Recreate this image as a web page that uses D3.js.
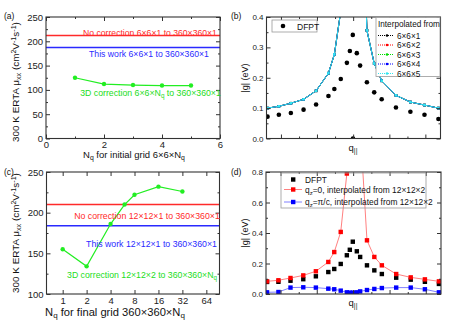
<!DOCTYPE html>
<html><head><meta charset="utf-8">
<script src="https://cdn.jsdelivr.net/npm/d3@7"></script>
<style>body{margin:0;background:#fff}svg{display:block}</style>
</head><body><svg id="c" width="469" height="330"></svg>
<script>
// ---------- data ----------
const nqA = [1, 2, 3, 4, 5];
const muA = [125, 112, 110, 109, 109];
const noCorrA = 212, thisWorkA = 187;
const nqC = [1, 2, 4, 6, 8, 16, 32];
const muC = [155, 134, 186, 210, 222, 232, 226];
const noCorrC = 210, thisWorkC = 184;

const qPath = [0.006,0.071,0.140,0.213,0.285,0.356,0.390,0.427,0.462,0.479,0.496,0.519,0.538,0.577,0.619,0.662,0.744,0.827,0.908,0.988];
const dfptB = [0.072,0.078,0.084,0.095,0.112,0.140,0.163,0.196,0.249,0.288,0.341,0.281,0.240,0.185,0.152,0.129,0.102,0.088,0.078,0.064];
const dfptZeroQ = [0.497], dfptZeroG = [0];
const interpB = [0.100,0.106,0.116,0.129,0.157,0.215,0.277,0.420,0.80,1.10,1.50,1.20,1.10,0.356,0.247,0.190,0.142,0.120,0.110,0.100];
const interpNames = ["6×6×1","6×6×2","6×6×3","6×6×4","6×6×5"];
const interpColors = ["#000000","#ff0000","#00dd00","#0000ff","#33e6ee"];
const dfptD = [0.079,0.080,0.087,0.097,0.116,0.144,0.164,0.197,0.254,0.290,0.343,0.280,0.243,0.188,0.155,0.131,0.107,0.094,0.080,0.066];
const qz0D = [0.083,0.090,0.105,0.122,0.149,0.210,0.275,0.407,0.79,1.10,1.50,1.20,1.10,0.352,0.243,0.188,0.131,0.109,0.096,0.083];
const qzPiD = [0.011,0.013,0.042,0.044,0.042,0.035,0.031,0.022,0.011,0.009,0.009,0.011,0.017,0.026,0.033,0.039,0.042,0.042,0.031,0.011];

const ticksAx = [0,2,4,6], minorAx = [1,3,5];
const ticksAy = [0,50,100,150,200,250], minorAy = [25,75,125,175,225];
const ticksCx = [1,2,4,8,16,32,64];
const ticksCy = [100,150,200,250], minorCy = [125,175,225];
const ticksBy = [0,0.1,0.2,0.3,0.4], minorBy = [0.05,0.15,0.25,0.35];
const ticksDy = [0,0.2,0.4,0.6,0.8], minorDy = [0.1,0.3,0.5,0.7];
const qTicksMajor = [0.083,0.290,0.498,0.706,0.913];
const qTicksMinor = [0.187,0.394,0.602,0.810];

// ---------- helpers ----------
const svg = d3.select("#c");
const FONT = "'Liberation Sans', Arial, sans-serif";
svg.attr("font-family", FONT);
const AX = "#333";

function axes(g, x, y, o) {
  const [x0, x1] = x.range(), [y0, y1] = y.range();
  const fs = o.fs;
  const add = (axis, tr, labels) => {
    const a = g.append("g").attr("transform", tr).call(axis);
    a.select(".domain").remove();
    a.selectAll("line").attr("stroke", AX).attr("stroke-width", 1);
    a.selectAll("text").attr("font-size", fs).attr("font-family", FONT).attr("fill", "#222");
    if (!labels) a.selectAll("text").remove();
  };
  add(d3.axisBottom(x).tickValues(o.xMajor).tickSize(-4).tickPadding(3).tickFormat(o.xFmt || (d=>d)), `translate(0,${y0})`, o.xLabels !== false);
  if (o.xMinor) add(d3.axisBottom(x).tickValues(o.xMinor).tickSize(-2), `translate(0,${y0})`, false);
  add(d3.axisTop(x).tickValues(o.xMajor).tickSize(-4), `translate(0,${y1})`, false);
  if (o.xMinor) add(d3.axisTop(x).tickValues(o.xMinor).tickSize(-2), `translate(0,${y1})`, false);
  add(d3.axisLeft(y).tickValues(o.yMajor).tickSize(-4).tickPadding(3).tickFormat(o.yFmt || (d=>d)), `translate(${x0},0)`, true);
  add(d3.axisLeft(y).tickValues(o.yMinor).tickSize(-2), `translate(${x0},0)`, false);
  add(d3.axisRight(y).tickValues(o.yMajor).tickSize(-4), `translate(${x1},0)`, false);
  add(d3.axisRight(y).tickValues(o.yMinor).tickSize(-2), `translate(${x1},0)`, false);
  g.append("rect").attr("x", x0).attr("y", y1).attr("width", x1 - x0).attr("height", y0 - y1)
    .attr("fill", "none").attr("stroke", AX).attr("stroke-width", 1.1);
}
let clipN = 0;
function clip(g, x, y) {
  const id = "clip" + (clipN++);
  const [x0, x1] = x.range(), [y0, y1] = y.range();
  svg.append("clipPath").attr("id", id).append("rect")
    .attr("x", x0).attr("y", y1).attr("width", x1 - x0).attr("height", y0 - y1);
  return g.append("g").attr("clip-path", `url(#${id})`);
}
function rich(sel, parts, fs) {
  parts.forEach(([t, m]) => {
    const ts = sel.append("tspan").text(t);
    if (m === "sub") ts.attr("baseline-shift", "-25%").attr("font-size", fs * 0.72);
    if (m === "sup") ts.attr("baseline-shift", "40%").attr("font-size", fs * 0.72);
  });
  return sel;
}
function label(x, y, parts, fs, opts = {}) {
  const t = svg.append("text").attr("x", x).attr("y", y).attr("font-size", fs)
    .attr("fill", opts.fill || "#111").attr("text-anchor", opts.anchor || "start");
  if (opts.rotate) t.attr("transform", `rotate(-90,${x},${y})`);
  return rich(t, parts, fs);
}
// text fitted to a span [a, b] measured on the reference (horizontal) or along rotated axis
function fitLabel(a, b, y, parts, opts = {}) {
  const probe = label(0, -100, parts, 10, {});
  const len = probe.node().getComputedTextLength();
  probe.remove();
  const fs = 10 * Math.abs(b - a) / len;
  if (opts.rotate) return label(y, (a + b) / 2, parts, fs, Object.assign({ anchor: "middle" }, opts));
  return label((a + b) / 2, y, parts, fs, Object.assign({}, opts, { anchor: "middle" }));
}
const muTitle = [["300 K ERTA μ",""],["xx","sub"],[" (cm",""],["2","sup"],["V",""],["-1","sup"],["s",""],["-1","sup"],[")",""]];

// ---------- panel (a) ----------
{
  const x = d3.scaleLinear().domain([0, 6]).range([46, 220]);
  const y = d3.scaleLinear().domain([0, 250]).range([138.5, 17]);
  const g = svg.append("g");
  const c = clip(g, x, y);
  c.append("line").attr("x1", x(0)).attr("x2", x(6)).attr("y1", y(noCorrA)).attr("y2", y(noCorrA)).attr("stroke", "#ff2a2a").attr("stroke-width", 1.5);
  c.append("line").attr("x1", x(0)).attr("x2", x(6)).attr("y1", y(thisWorkA)).attr("y2", y(thisWorkA)).attr("stroke", "#2a2aff").attr("stroke-width", 1.5);
  g.append("path").datum(nqA.map((n, i) => [n, muA[i]]))
    .attr("d", d3.line().x(d => x(d[0])).y(d => y(d[1]))).attr("fill", "none").attr("stroke", "#22ee22").attr("stroke-width", 1.2);
  g.selectAll(".pa").data(nqA.map((n, i) => [n, muA[i]])).join("circle")
    .attr("cx", d => x(d[0])).attr("cy", d => y(d[1])).attr("r", 2.2).attr("fill", "#22ee22");
  axes(g, x, y, { xMajor: ticksAx, xMinor: minorAx, yMajor: ticksAy, yMinor: minorAy, fs: 9.5 });
  fitLabel(83, 217, y(noCorrA) + 0.5, [["No correction 6×6×1 to 360×360×1",""]], { fill: "#ff2a2a" });
  fitLabel(89, 209, 57, [["This work 6×6×1 to 360×360×1",""]], { fill: "#2a2aff" });
  fitLabel(80, 221, 96, [["3D correction 6×6×N",""],["q","sub"],[" to 360×360×1",""]], { fill: "#22dd22" });
  fitLabel(83, 185, 158, [["N",""],["q","sub"],[" for initial grid 6×6×N",""],["q","sub"]]);
  fitLabel(142, 22, 19, muTitle, { rotate: true });
  label(4, 19, [["(a)",""]], 8.5);
}

// ---------- panel (c) ----------
{
  const x = d3.scaleLog().base(2).domain([0.626, 93.7]).range([46.5, 219.5]);
  const y = d3.scaleLinear().domain([100, 250]).range([294, 172]);
  const g = svg.append("g");
  const c = clip(g, x, y);
  c.append("line").attr("x1", x.range()[0]).attr("x2", x.range()[1]).attr("y1", y(noCorrC)).attr("y2", y(noCorrC)).attr("stroke", "#ff2a2a").attr("stroke-width", 1.5);
  c.append("line").attr("x1", x.range()[0]).attr("x2", x.range()[1]).attr("y1", y(thisWorkC)).attr("y2", y(thisWorkC)).attr("stroke", "#2a2aff").attr("stroke-width", 1.5);
  const pts = nqC.map((n, i) => [n, muC[i]]);
  g.append("path").datum(pts).attr("d", d3.line().x(d => x(d[0])).y(d => y(d[1])))
    .attr("fill", "none").attr("stroke", "#22ee22").attr("stroke-width", 1.2);
  g.selectAll(".pc").data(pts).join("circle")
    .attr("cx", d => x(d[0])).attr("cy", d => y(d[1])).attr("r", 2.2).attr("fill", "#22ee22");
  axes(g, x, y, { xMajor: ticksCx, yMajor: ticksCy, yMinor: minorCy, fs: 9.5, xFmt: d => String(d) });
  fitLabel(74, 220, 219, [["No correction 12×12×1 to 360×360×1",""]], { fill: "#ff2a2a" });
  fitLabel(86, 217, 246.5, [["This work 12×12×1 to 360×360×1",""]], { fill: "#2a2aff" });
  fitLabel(67, 217, 278, [["3D correction 12×12×2 to 360×360×N",""],["q","sub"]], { fill: "#22dd22" });
  fitLabel(45, 185, 316, [["N",""],["q","sub"],[" for final grid 360×360×N",""],["q","sub"]]);
  fitLabel(293, 173, 19, muTitle, { rotate: true });
  label(4, 175, [["(c)",""]], 8.5);
}

// ---------- panel (b) ----------
{
  const x = d3.scaleLinear().domain([0, 1]).range([266.5, 440.5]);
  const y = d3.scaleLinear().domain([0, 0.4]).range([138.5, 17]);
  const g = svg.append("g");
  const c = clip(g, x, y);
  const line = d3.line().x(d => x(d[0])).y(d => y(d[1]));
  interpNames.forEach((nm, k) => {
    const pts = qPath.map((q, i) => [q, interpB[i]]);
    c.append("path").datum(pts).attr("d", line).attr("fill", "none")
      .attr("stroke", interpColors[k]).attr("stroke-width", 1);
    c.selectAll(null).data(pts).join("rect")
      .attr("x", d => x(d[0]) - 1.3).attr("y", d => y(d[1]) - 1.3).attr("width", 2.6).attr("height", 2.6)
      .attr("fill", interpColors[k]);
  });
  const dp = qPath.map((q, i) => [q, dfptB[i]]).concat(dfptZeroQ.map((q, i) => [q, dfptZeroG[i]]));
  c.selectAll(null).data(dp).join("circle")
    .attr("cx", d => x(d[0])).attr("cy", d => y(d[1])).attr("r", 2.3).attr("fill", "#000");
  axes(g, x, y, { xMajor: qTicksMajor, xMinor: qTicksMinor, xLabels: false, yMajor: ticksBy, yMinor: minorBy, fs: 8, yFmt: d3.format(".1f") });
  g.append("rect").attr("x", 272).attr("y", 20).attr("width", 45).attr("height", 12)
    .attr("fill", "#fff").attr("stroke", "#999").attr("stroke-width", 0.8);
  g.append("circle").attr("cx", 283).attr("cy", 26).attr("r", 2.3).attr("fill", "#000");
  label(297, 29.5, [["DFPT",""]], 8.5);
  g.append("rect").attr("x", 376).attr("y", 17.5).attr("width", 64).attr("height", 59)
    .attr("fill", "#fff").attr("stroke", "#999").attr("stroke-width", 0.8);
  label(378, 27, [["Interpolated from",""]], 8.2);
  interpNames.forEach((nm, k) => {
    const yy = 35.5 + k * 9.5;
    g.append("line").attr("x1", 378).attr("x2", 394).attr("y1", yy).attr("y2", yy)
      .attr("stroke", interpColors[k]).attr("stroke-width", 1).attr("stroke-dasharray", "1,1");
    g.append("circle").attr("cx", 387).attr("cy", yy).attr("r", 1.3).attr("fill", interpColors[k]);
    label(397, yy + 3, [[nm,""]], 8.2);
  });
  label(353, 151, [["q",""],["||","sub"]], 9.5, { anchor: "middle" });
  label(248, 78, [["|g| (eV)",""]], 9, { anchor: "middle", rotate: true });
  label(231, 19, [["(b)",""]], 8.5);
}

// ---------- panel (d) ----------
{
  const x = d3.scaleLinear().domain([0, 1]).range([266, 441]);
  const y = d3.scaleLinear().domain([0, 0.8]).range([294, 172]);
  const g = svg.append("g");
  const c = clip(g, x, y);
  const line = d3.line().x(d => x(d[0])).y(d => y(d[1]));
  const sq = (sel, data, col) => sel.selectAll(null).data(data).join("rect")
    .attr("x", d => x(d[0]) - 2.2).attr("y", d => y(d[1]) - 2.2).attr("width", 4.4).attr("height", 4.4).attr("fill", col);
  const black = qPath.map((q, i) => [q, dfptD[i]]);
  const red = qPath.map((q, i) => [q, qz0D[i]]);
  const blue = qPath.map((q, i) => [q, qzPiD[i]]);
  sq(c, black, "#000");
  c.append("path").datum(red).attr("d", line).attr("fill", "none").attr("stroke", "#ff8080").attr("stroke-width", 1);
  sq(c, red, "#ff0000");
  c.append("path").datum(blue).attr("d", line).attr("fill", "none").attr("stroke", "#8080ff").attr("stroke-width", 1);
  sq(c, blue, "#0000ff");
  axes(g, x, y, { xMajor: qTicksMajor, xMinor: qTicksMinor, xLabels: false, yMajor: ticksDy, yMinor: minorDy, fs: 8, yFmt: d3.format(".1f") });
  g.append("rect").attr("x", 281).attr("y", 173).attr("width", 145).attr("height", 35)
    .attr("fill", "none").attr("stroke", "#999").attr("stroke-width", 0.8);
  const ly = [179.5, 189.5, 202];
  const lc = [["#000", null], ["#ff0000", "#ff8080"], ["#0000ff", "#8080ff"]];
  lc.forEach(([mc, lcol], k) => {
    if (lcol) g.append("line").attr("x1", 284).attr("x2", 302).attr("y1", ly[k]).attr("y2", ly[k]).attr("stroke", lcol).attr("stroke-width", 1);
    g.append("rect").attr("x", 291).attr("y", ly[k] - 2.2).attr("width", 4.4).attr("height", 4.4).attr("fill", mc);
  });
  label(305, ly[0] + 3, [["DFPT",""]], 8.4);
  label(305, ly[1] + 3, [["q",""],["z","sub"],["=0, interpolated from 12×12×2",""]], 8.4);
  label(305, ly[2] + 3, [["q",""],["z","sub"],["=π/c, interpolated from 12×12×2",""]], 8.4);
  label(353, 306, [["q",""],["||","sub"]], 9.5, { anchor: "middle" });
  label(248, 233, [["|g| (eV)",""]], 9, { anchor: "middle", rotate: true });
  label(231, 175, [["(d)",""]], 8.5);
}
</script></body></html>
